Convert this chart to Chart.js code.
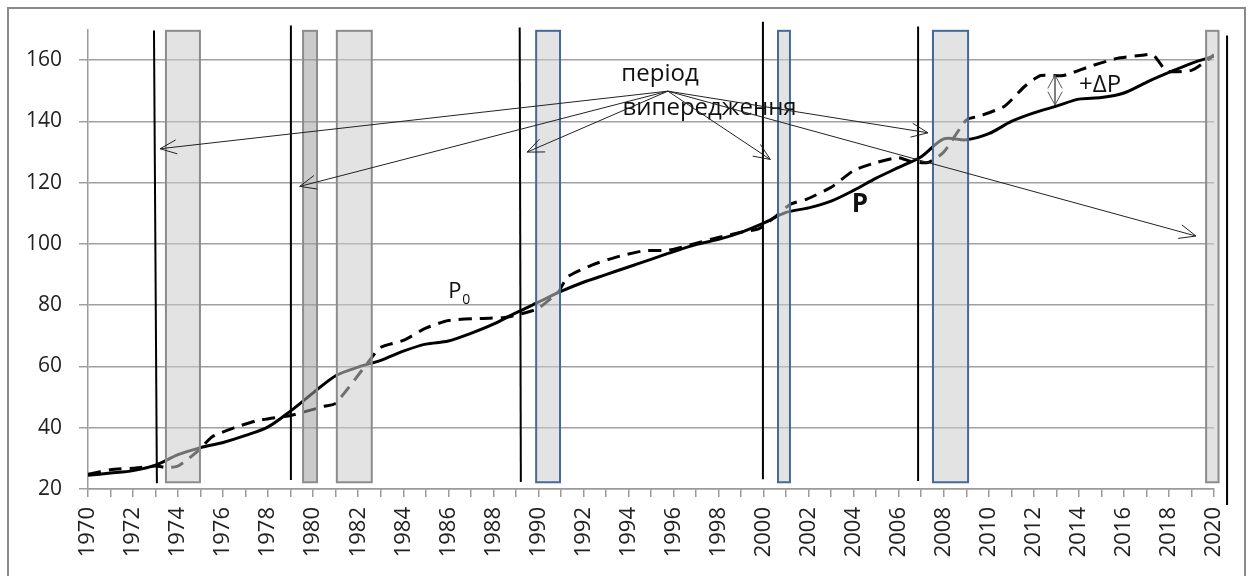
<!DOCTYPE html>
<html lang="uk">
<head>
    <title>Період випередження</title>
    <meta charset="utf-8">
    <script src="https://cdn.jsdelivr.net/npm/chart.js"></script>
    <style>
        body { margin: 0; background: #fff; }
    </style>
</head>
<body>
    <canvas id="leadChart" width="1251" height="576"></canvas>

    <script>
        // years on the x axis
        const years = [1970, 1971, 1972, 1973, 1974, 1975, 1976, 1977, 1978, 1979,
            1980, 1981, 1982, 1983, 1984, 1985, 1986, 1987, 1988, 1989,
            1990, 1991, 1992, 1993, 1994, 1995, 1996, 1997, 1998, 1999,
            2000, 2001, 2002, 2003, 2004, 2005, 2006, 2007, 2008, 2009,
            2010, 2011, 2012, 2013, 2014, 2015, 2016, 2017, 2018, 2019, 2020];

        // P (solid line)
        const pValues = [24.5, 25.2, 26, 27.8, 31.2, 33.5, 35.2, 37.5, 40.3, 45.5,
            51.4, 57, 59.8, 62, 65, 67.3, 68.3, 70.8, 73.8, 77.5,
            81, 84.5, 87.5, 90, 92.5, 95, 97.5, 99.8, 101.5, 103.8,
            106.8, 110.3, 111.8, 114, 117.5, 121.5, 125, 128.5, 134.3, 134,
            136, 140, 142.8, 145, 147.3, 147.8, 149.3, 152.8, 156, 159, 161.3];

        // P0 (dashed line), read at uneven years
        const p0Years = [1970, 1971, 1972, 1973, 1973.5, 1974, 1974.9, 1975.5, 1976.5, 1977.5,
            1978.5, 1979, 1979.5, 1980.5, 1981, 1982.5, 1983, 1984, 1985, 1986,
            1987.5, 1988.5, 1989.5, 1990, 1990.9, 1991.3, 1992.4, 1993.5, 1994.7, 1995.8,
            1996.9, 1997.9, 1999.1, 1999.8, 2000.6, 2001.2, 2001.9, 2003, 2004, 2005,
            2006, 2006.5, 2007.3, 2008, 2009, 2009.6, 2010.7, 2011.6, 2012.3, 2013.3,
            2014.5, 2015.7, 2016.8, 2017.3, 2017.9, 2019, 2019.8, 2020];
        const p0Values = [24.8, 26.3, 26.8, 27.5, 27, 27.5, 32.5, 37, 40, 42.3,
            43.5, 44, 45, 47, 48, 62, 66.3, 68.5, 72.5, 75,
            75.7, 76, 77.7, 79, 84.5, 89.3, 93.2, 95.8, 97.8, 98,
            100, 102, 104, 105, 109.4, 113, 114.6, 118.5, 124, 126.6,
            128.2, 127, 126.6, 130, 140.5, 141.8, 145, 151.5, 155, 155,
            158, 160.6, 161.6, 161.8, 156.5, 156.7, 160.5, 161.8];

        // shaded periods (years)
        const boxFrom = [1973.46, 1979.55, 1981.05, 1989.9, 2000.64, 2007.52, 2019.65];
        const boxTo = [1974.97, 1980.17, 1982.6, 1990.96, 2001.17, 2009.08, 2020.2];
        const boxKind = ['grey', 'dark', 'grey', 'blue', 'blue', 'blue', 'grey'];

        // vertical marker lines (years, value range)
        const markTopX = [1972.93, 1979.01, 1989.17, 1999.97, 2006.86, 2020.58];
        const markBottomX = [1973.06, 1979.01, 1989.22, 1999.97, 2006.86, 2020.58];
        const markTop = [169.7, 171.3, 170.7, 172.6, 171, 168.1];
        const markBottom = [21.9, 22.9, 22.3, 23.2, 22.6, 14.8];

        // arrows from the "період випередження" note
        const arrowFrom = [1995.75, 149.9];
        const arrowToX = [1973.2, 1979.4, 1989.5, 2000.3, 2007.3, 2019.2];
        const arrowToY = [131.1, 118.8, 130, 127.6, 136.3, 102.6];

        const yTicks = [20, 40, 60, 80, 100, 120, 140, 160];

        const textFont = '"Open Sans", "DejaVu Sans", sans-serif';

        function drawArrow(ctx, x0, y0, x1, y1, len, ang) {
            const a = Math.atan2(y1 - y0, x1 - x0);
            ctx.beginPath();
            ctx.moveTo(x0, y0);
            ctx.lineTo(x1, y1);
            ctx.moveTo(x1 - len * Math.cos(a - ang), y1 - len * Math.sin(a - ang));
            ctx.lineTo(x1, y1);
            ctx.lineTo(x1 - len * Math.cos(a + ang), y1 - len * Math.sin(a + ang));
            ctx.stroke();
        }

        const notes = {
            id: 'notes',
            afterDatasetsDraw(chart) {
                const { ctx, scales: { x, y } } = chart;
                ctx.save();

                // boxes (semi-transparent, lines show through)
                boxFrom.forEach((from, i) => {
                    const l = x.getPixelForValue(from);
                    const r = x.getPixelForValue(boxTo[i]);
                    const t = y.getPixelForValue(169.6);
                    const b = y.getPixelForValue(22.2);
                    ctx.fillStyle = boxKind[i] === 'dark' ? 'rgba(160,160,160,0.55)' : 'rgba(204,204,204,0.55)';
                    ctx.fillRect(l, t, r - l, b - t);
                    ctx.lineWidth = 2;
                    ctx.strokeStyle = boxKind[i] === 'blue' ? '#45699b' : '#8c8c8c';
                    ctx.strokeRect(l, t, r - l, b - t);
                });

                // vertical black lines
                ctx.strokeStyle = '#000';
                ctx.lineWidth = 2;
                markTopX.forEach((mx, i) => {
                    ctx.beginPath();
                    ctx.moveTo(x.getPixelForValue(mx), y.getPixelForValue(markTop[i]));
                    ctx.lineTo(x.getPixelForValue(markBottomX[i]), y.getPixelForValue(markBottom[i]));
                    ctx.stroke();
                });

                // texts
                ctx.fillStyle = '#111';
                ctx.textBaseline = 'middle';
                ctx.textAlign = 'center';
                ctx.font = '24px ' + textFont;
                ctx.fillText('період', x.getPixelForValue(1995.4), y.getPixelForValue(155.5));
                ctx.fillText('випередження', x.getPixelForValue(1997.6), y.getPixelForValue(144.2));
                ctx.fillText('+ΔP', x.getPixelForValue(2014.94), y.getPixelForValue(152));
                ctx.font = 'bold 26px ' + textFont;
                ctx.fillText('P', x.getPixelForValue(2004.28), y.getPixelForValue(112.8));
                ctx.textAlign = 'left';
                ctx.font = '22px ' + textFont;
                const px = x.getPixelForValue(1986.0);
                const py = y.getPixelForValue(84.5);
                ctx.fillText('P', px, py);
                ctx.font = '14px ' + textFont;
                ctx.fillText('0', px + 14, py + 9);

                // arrows
                ctx.strokeStyle = '#222';
                ctx.lineWidth = 1;
                const ox = x.getPixelForValue(arrowFrom[0]);
                const oy = y.getPixelForValue(arrowFrom[1]);
                arrowToX.forEach((ax, i) => {
                    drawArrow(ctx, ox, oy, x.getPixelForValue(ax), y.getPixelForValue(arrowToY[i]), 18, 0.4);
                });

                // double arrow for +ΔP
                ctx.strokeStyle = '#555';
                const dx = x.getPixelForValue(2012.94);
                const dTop = y.getPixelForValue(155.1);
                const dBot = y.getPixelForValue(145.4);
                drawArrow(ctx, dx, dBot, dx, dTop, 15, 0.5);
                drawArrow(ctx, dx, dTop, dx, dBot, 15, 0.5);

                ctx.restore();
            },
            afterDraw(chart) {
                const { ctx } = chart;
                ctx.save();
                ctx.strokeStyle = '#8a8a8a';
                ctx.lineWidth = 2;
                ctx.strokeRect(8, 8, 1237, 600);
                ctx.restore();
            }
        };

        const chart = new Chart(document.getElementById('leadChart'), {
            type: 'line',
            data: {
                datasets: [{
                    label: 'P',
                    data: years.map((yr, i) => ({ x: yr, y: pValues[i] })),
                    borderColor: '#000',
                    borderWidth: 3,
                    pointRadius: 0,
                    tension: 0.3,
                    fill: false
                }, {
                    label: 'P0',
                    data: p0Years.map((yr, i) => ({ x: yr, y: p0Values[i] })),
                    borderColor: '#000',
                    borderWidth: 3,
                    borderDash: [13, 8],
                    pointRadius: 0,
                    tension: 0.2,
                    fill: false
                }]
            },
            options: {
                responsive: false,
                animation: false,
                layout: { padding: { top: 24, right: 37, left: 0, bottom: 0 } },
                plugins: {
                    legend: { display: false },
                    tooltip: { enabled: false }
                },
                scales: {
                    x: {
                        type: 'linear',
                        min: 1970,
                        max: 2020,
                        afterFit: (scale) => { scale.height = 87; },
                        border: { color: '#9a9a9a', width: 1.5 },
                        grid: { drawOnChartArea: false, drawTicks: true, tickLength: 8, color: '#9a9a9a', lineWidth: 1.5 },
                        ticks: {
                            stepSize: 1,
                            autoSkip: false,
                            maxRotation: 90,
                            minRotation: 90,
                            padding: 10,
                            color: '#222',
                            font: { family: textFont, size: 22 },
                            callback: (v) => (v % 2 === 0 ? String(v) : '')
                        }
                    },
                    y: {
                        min: 20,
                        max: 170,
                        afterFit: (scale) => { scale.width = 88; },
                        afterBuildTicks: (scale) => {
                            scale.ticks = yTicks.map((v) => ({ value: v }));
                        },
                        border: { color: '#9a9a9a', width: 1.5 },
                        grid: { color: '#a0a0a0', lineWidth: 1.5, tickLength: 9 },
                        ticks: {
                            padding: 17,
                            color: '#222',
                            font: { family: textFont, size: 21 },
                            callback: (v) => String(v)
                        }
                    }
                }
            },
            plugins: [notes]
        });
    </script>
</body>
</html>
